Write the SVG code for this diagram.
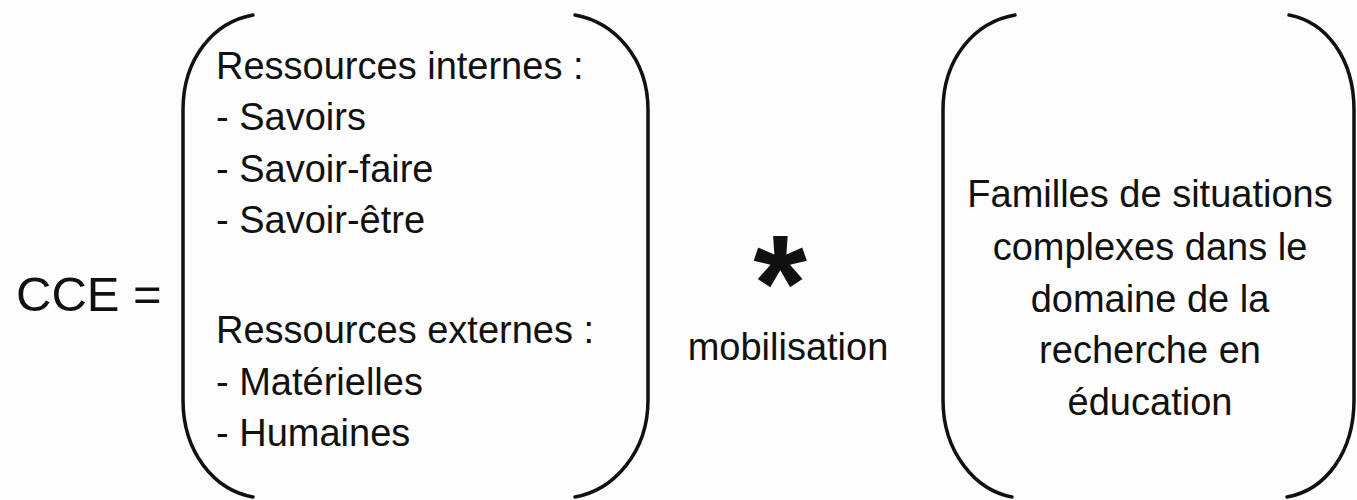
<svg xmlns="http://www.w3.org/2000/svg" width="1357" height="500" viewBox="0 0 1357 500">
  <style>
    .t { font-family: "Liberation Sans", Arial, Helvetica, sans-serif; font-size: 38px; fill: #111; }
    .big { font-size: 49px; }
    .star { font-weight: bold; font-size: 138px; }
    .paren { fill: none; stroke: #111; stroke-width: 3.5; stroke-linecap: round; }
  </style>
  <rect x="0" y="0" width="1357" height="500" fill="#fdfdfd"/>
  <g id="cce">
    <text class="t big" x="16" y="311">CCE =</text>
  </g>
  <g id="ressources">
    <path class="paren" d="M253,15 C214,22 183,58 183,110 L183,400 C183,452 214,490 253,497"/>
    <path class="paren" d="M575,15 C614,22 648,58 648,110 L648,400 C648,452 614,490 575,497"/>
    <text class="t" x="216" y="79">Ressources internes :</text>
    <text class="t" x="216" y="130">- Savoirs</text>
    <text class="t" x="216" y="182">- Savoir-faire</text>
    <text class="t" x="216" y="233">- Savoir-être</text>
    <text class="t" x="216" y="343">Ressources externes :</text>
    <text class="t" x="216" y="395">- Matérielles</text>
    <text class="t" x="216" y="446">- Humaines</text>
  </g>
  <g id="mobilisation">
    <text class="t star" x="780" y="331" text-anchor="middle">*</text>
    <text class="t" x="788" y="360" text-anchor="middle">mobilisation</text>
  </g>
  <g id="situations">
    <path class="paren" d="M1015,15 C975,22 943,58 943,110 L943,400 C943,452 975,490 1012,497"/>
    <path class="paren" d="M1289,15 C1326,22 1354,58 1354,110 L1354,400 C1354,452 1326,490 1287,497"/>
    <text class="t" x="1150" y="207" text-anchor="middle">Familles de situations</text>
    <text class="t" x="1150" y="260" text-anchor="middle">complexes dans le</text>
    <text class="t" x="1150" y="312" text-anchor="middle">domaine de la</text>
    <text class="t" x="1150" y="363" text-anchor="middle">recherche en</text>
    <text class="t" x="1150" y="415" text-anchor="middle">éducation</text>
  </g>
  <g id="connectors"/>
</svg>
